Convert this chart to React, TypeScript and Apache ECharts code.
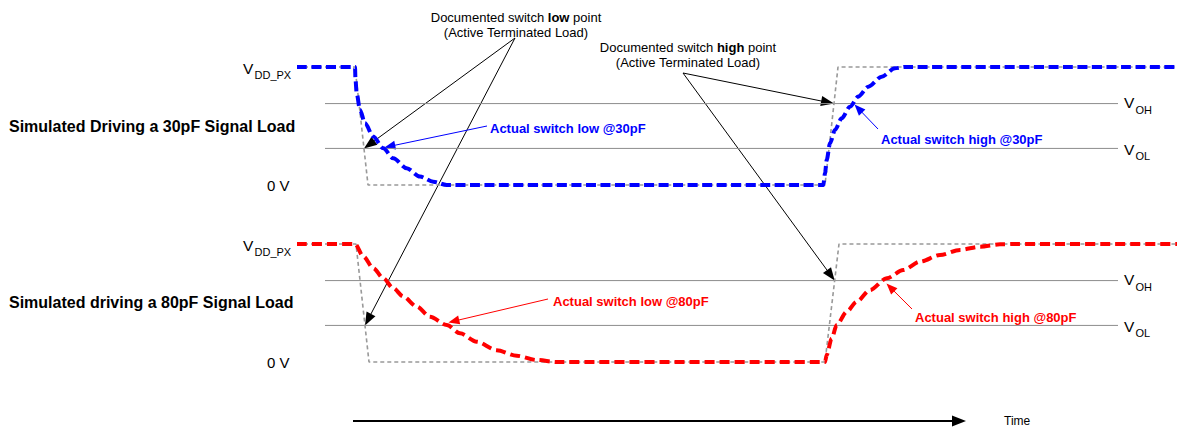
import { useEffect, useRef } from "react";
import * as echarts from "echarts";

const FONT = "'Liberation Sans', Arial, Helvetica, sans-serif";

// Time in ns (t = 0 at the falling edge), voltage as a fraction of VDD_PX.
const T_MIN = -6;
const T_MAX = 82.2;
const VOH = 0.69;
const VOL = 0.31;
const refLineT = [-3, 76.3];

// Documented (active terminated load) waveforms
const doc30T = [-5.8, 0, 1.3, 47.0, 48.3, 82.2];
const doc30V = [1, 1, 0, 0, 1, 1];
const doc80T = [-5.8, 0.1, 1.4, 47.0, 48.4, 82.2];
const doc80V = [1, 1, 0, 0, 1, 1];

// Simulated waveform with a 30pF load
const act30T = [-5.8, 0, 0.05, 0.17, 0.5, 1.0, 1.83, 2.83, 3.83, 5.17, 6.5, 7.83, 9.17, 46.83, 47.0, 47.17, 47.5, 48.0, 48.67, 49.5, 50.33, 51.33, 52.67, 54.0, 55.0, 82.2];
const act30V = [1, 1, 0.89, 0.775, 0.636, 0.523, 0.41, 0.311, 0.226, 0.142, 0.071, 0.028, 0, 0, 0.099, 0.212, 0.353, 0.466, 0.565, 0.664, 0.749, 0.833, 0.918, 0.989, 1, 1];

// Simulated waveform with an 80pF load
const act80T = [-5.8, 0, 0.83, 1.83, 2.83, 3.83, 4.83, 6.17, 7.5, 9.17, 10.5, 12.17, 14.17, 16.17, 18.17, 20.17, 47.0, 47.17, 47.67, 48.17, 49.17, 50.17, 51.5, 53.17, 54.83, 56.5, 58.5, 60.5, 62.5, 64.5, 66.0, 82.2];
const act80V = [1, 1, 0.895, 0.795, 0.71, 0.625, 0.555, 0.47, 0.384, 0.314, 0.243, 0.172, 0.1, 0.053, 0.017, 0, 0, 0.06, 0.2, 0.314, 0.426, 0.511, 0.61, 0.709, 0.78, 0.85, 0.907, 0.95, 0.977, 0.997, 1, 1];

const BLUE = "#0000ff";
const RED = "#ff0000";
const GRAY = "#999999";
const REF = "#8c8c8c";

const zip = (t: number[], v: number[]) => t.map((x, i) => [x, v[i]]);

// time at which a waveform crosses a level inside [from, to]
function crossing(t: number[], v: number[], level: number, from: number, to: number) {
  for (let i = 0; i < t.length - 1; i++) {
    if (t[i + 1] < from || t[i] > to) continue;
    const a = v[i] - level;
    const b = v[i + 1] - level;
    if (a === 0) return t[i];
    if (a * b < 0) return t[i] + ((t[i + 1] - t[i]) * a) / (a - b);
  }
  return from;
}

function arrow(x1: number, y1: number, x2: number, y2: number, color: string, width: number, headLen: number, headHalf: number) {
  const dx = x2 - x1;
  const dy = y2 - y1;
  const len = Math.hypot(dx, dy);
  const ux = dx / len;
  const uy = dy / len;
  const bx = x2 - ux * headLen;
  const by = y2 - uy * headLen;
  const px = -uy;
  const py = ux;
  return [
    { type: "line", silent: true, shape: { x1, y1, x2: bx + ux, y2: by + uy }, style: { stroke: color, lineWidth: width } },
    {
      type: "polygon",
      silent: true,
      shape: { points: [[x2, y2], [bx + px * headHalf, by + py * headHalf], [bx - px * headHalf, by - py * headHalf]] },
      style: { fill: color },
    },
  ];
}

function text(x: number, y: number, str: string, size: number, opts: any = {}) {
  return {
    type: "text",
    silent: true,
    x,
    y,
    style: {
      text: str,
      fontSize: size,
      fontFamily: FONT,
      fontWeight: opts.bold ? "bold" : "normal",
      fill: opts.color || "#000",
      align: opts.align || "left",
      verticalAlign: "middle",
    },
  };
}

function docLabel(x: number, y: number, word: string) {
  return [
    {
      type: "text",
      silent: true,
      x,
      y,
      style: {
        text: `{n|Documented switch }{b|${word}}{n| point}`,
        align: "center",
        verticalAlign: "middle",
        rich: {
          n: { fontSize: 13, fontFamily: FONT, fill: "#000" },
          b: { fontSize: 13, fontFamily: FONT, fontWeight: "bold", fill: "#000" },
        },
      },
    },
    text(x, y + 15.5, "(Active Terminated Load)", 13, { align: "center" }),
  ];
}

function vLabel(x: number, y: number, sub: string) {
  return [text(x, y, "V", 15.5), text(x + 11.5, y + 7, sub, 11)];
}

export default function App() {
  const ref = useRef<HTMLDivElement>(null);

  useEffect(() => {
    if (!ref.current) return;
    const chart = echarts.init(ref.current, undefined, { renderer: "svg" });

    const lineSeries = (idx: number, data: number[][], color: string, width: number, dash: number[] | null, z: number, smooth: number) => ({
      type: "line",
      xAxisIndex: idx,
      yAxisIndex: idx,
      data,
      symbol: "none",
      silent: true,
      clip: false,
      smooth,
      smoothMonotone: "x",
      z,
      lineStyle: { color, width, type: dash || "solid", cap: "butt" },
    });

    const axisX = (gridIndex: number) => ({ type: "value", gridIndex, min: T_MIN, max: T_MAX, show: false });
    const axisY = (gridIndex: number) => ({ type: "value", gridIndex, min: 0, max: 1, show: false });

    chart.setOption({
      animation: false,
      backgroundColor: "#fff",
      grid: [
        { left: 295, right: 0, top: 67, height: 118 },
        { left: 295, right: 0, top: 244, height: 118 },
      ],
      xAxis: [axisX(0), axisX(1)],
      yAxis: [axisY(0), axisY(1)],
      series: [
        lineSeries(0, zip(refLineT, [VOH, VOH]), REF, 1, null, 1, 0),
        lineSeries(0, zip(refLineT, [VOL, VOL]), REF, 1, null, 1, 0),
        lineSeries(0, zip(doc30T, doc30V), GRAY, 1.6, [4, 3], 2, 0),
        lineSeries(0, zip(act30T, act30V), BLUE, 4, [10, 4.5], 3, 0.3),
        lineSeries(1, zip(refLineT, [VOH, VOH]), REF, 1, null, 1, 0),
        lineSeries(1, zip(refLineT, [VOL, VOL]), REF, 1, null, 1, 0),
        lineSeries(1, zip(doc80T, doc80V), GRAY, 1.6, [4, 3], 2, 0),
        lineSeries(1, zip(act80T, act80V), RED, 4, [10, 5], 3, 0.3),
      ],
    });

    const px = (g: number, t: number, v: number) => chart.convertToPixel({ gridIndex: g } as any, [t, v]) as number[];

    // arrow targets taken from the waveforms themselves
    const lowDocTop = px(0, crossing(doc30T, doc30V, VOL, 0, 5), VOL);
    const lowDocBot = px(1, crossing(doc80T, doc80V, VOL, 0, 5), VOL);
    const highDocTop = px(0, crossing(doc30T, doc30V, VOH, 40, 60), VOH);
    const highDocBot = px(1, crossing(doc80T, doc80V, VOH, 40, 60), VOH);
    const lowActTop = px(0, crossing(act30T, act30V, VOL, 0, 20), VOL);
    const highActTop = px(0, crossing(act30T, act30V, VOH, 40, 70), VOH);
    const lowActBot = px(1, crossing(act80T, act80V, VOL, 0, 30), VOL);
    const highActBot = px(1, crossing(act80T, act80V, VOH, 40, 70), VOH);

    const vdd0 = px(0, 0, 1)[1];
    const gnd0 = px(0, 0, 0)[1];
    const vdd1 = px(1, 0, 1)[1];
    const gnd1 = px(1, 0, 0)[1];
    const voh0 = px(0, 0, VOH)[1];
    const vol0 = px(0, 0, VOL)[1];
    const voh1 = px(1, 0, VOH)[1];
    const vol1 = px(1, 0, VOL)[1];

    const elements: any[] = [
      ...docLabel(516, 17, "low"),
      ...docLabel(688, 47, "high"),
      ...vLabel(243, vdd0 + 1, "DD_PX"),
      ...vLabel(243, vdd1 + 1, "DD_PX"),
      text(267, gnd0, "0 V", 15),
      text(267, gnd1, "0 V", 15),
      ...vLabel(1124, voh0 - 1, "OH"),
      ...vLabel(1124, vol0 + 1, "OL"),
      ...vLabel(1124, voh1 - 1, "OH"),
      ...vLabel(1124, vol1 + 1, "OL"),
      text(9, 126.5, "Simulated Driving a 30pF Signal Load", 16, { bold: true }),
      text(9, 302, "Simulated driving a 80pF Signal Load", 16, { bold: true }),
      text(490, 128, "Actual switch low @30pF", 13, { bold: true, color: BLUE }),
      text(881, 139.5, "Actual switch high @30pF", 13, { bold: true, color: BLUE }),
      text(553, 301, "Actual switch low @80pF", 13, { bold: true, color: RED }),
      text(915, 317.5, "Actual switch high @80pF", 13, { bold: true, color: RED }),
      text(1004, 421, "Time", 12),
      ...arrow(515, 38, lowDocTop[0], lowDocTop[1], "#000", 1, 13, 5),
      ...arrow(515, 38, lowDocBot[0], lowDocBot[1], "#000", 1, 13, 5),
      ...arrow(683, 73, highDocTop[0], highDocTop[1], "#000", 1, 13, 5),
      ...arrow(683, 73, highDocBot[0], highDocBot[1], "#000", 1, 13, 5),
      ...arrow(487, 126, lowActTop[0] + 1, lowActTop[1] - 1, BLUE, 1, 11, 4.5),
      ...arrow(878, 129, highActTop[0] + 2, highActTop[1] + 1, BLUE, 1, 11, 4.5),
      ...arrow(548, 299, lowActBot[0] + 1, lowActBot[1] - 3, RED, 1, 11, 4.5),
      ...arrow(912, 309, highActBot[0] + 3, highActBot[1] + 3, RED, 1, 11, 4.5),
      ...arrow(353, 421, 966, 421, "#000", 2, 14, 5.5),
    ];

    chart.setOption({ graphic: { elements } });

    return () => chart.dispose();
  }, []);

  return (
    <div
      ref={ref}
      style={{ position: "fixed", left: 0, top: 0, width: 1177, height: 428, background: "#fff" }}
    />
  );
}
